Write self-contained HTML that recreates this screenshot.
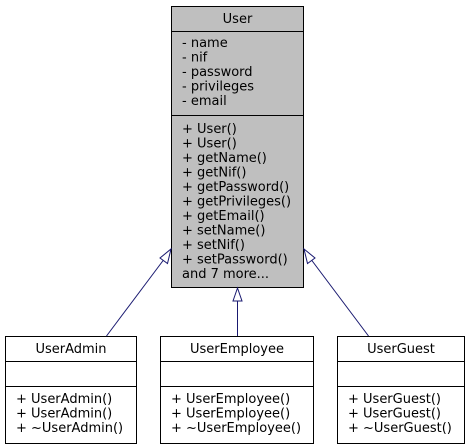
<!DOCTYPE html>
<html><head><style>body{margin:0;background:#fff}svg{display:block}</style></head><body>
<svg width="470" height="448" viewBox="0 0 470 448" xmlns="http://www.w3.org/2000/svg" font-family="DejaVu Sans, sans-serif" font-size="13">
<rect x="171.5" y="6.5" width="132" height="281" fill="#bfbfbf" stroke="#000"/>
<line x1="171.5" y1="31.5" x2="303.5" y2="31.5" stroke="#000"/>
<line x1="171.5" y1="115.5" x2="303.5" y2="115.5" stroke="#000"/>
<text x="237.5" y="23" text-anchor="middle">User</text>
<g>
<text x="182" y="47">- name</text>
<text x="182" y="61.5">- nif</text>
<text x="182" y="76">- password</text>
<text x="182" y="90.5">- privileges</text>
<text x="182" y="105">- email</text>
<text x="182" y="133">+ User()</text>
<text x="182" y="147.5">+ User()</text>
<text x="182" y="162">+ getName()</text>
<text x="182" y="176.5">+ getNif()</text>
<text x="182" y="191">+ getPassword()</text>
<text x="182" y="205.5">+ getPrivileges()</text>
<text x="182" y="220">+ getEmail()</text>
<text x="182" y="234.5">+ setName()</text>
<text x="182" y="249">+ setNif()</text>
<text x="182" y="263.5">+ setPassword()</text>
<text x="182" y="278">and 7 more...</text>
</g>
<g fill="#fff" stroke="#000">
<rect x="5.5" y="336.5" width="131" height="107"/>
<rect x="160.5" y="336.5" width="153" height="107"/>
<rect x="337.5" y="336.5" width="127" height="107"/>
</g>
<g stroke="#000">
<line x1="5.5" y1="361.5" x2="136.5" y2="361.5"/><line x1="5.5" y1="386.5" x2="136.5" y2="386.5"/>
<line x1="160.5" y1="361.5" x2="313.5" y2="361.5"/><line x1="160.5" y1="386.5" x2="313.5" y2="386.5"/>
<line x1="337.5" y1="361.5" x2="464.5" y2="361.5"/><line x1="337.5" y1="386.5" x2="464.5" y2="386.5"/>
</g>
<text x="71" y="353" text-anchor="middle">UserAdmin</text>
<text x="237" y="353" text-anchor="middle">UserEmployee</text>
<text x="401" y="353" text-anchor="middle">UserGuest</text>
<text x="16" y="403">+ UserAdmin()</text>
<text x="16" y="417.5">+ UserAdmin()</text>
<text x="16" y="432">+ ~UserAdmin()</text>
<text x="171" y="403">+ UserEmployee()</text>
<text x="171" y="417.5">+ UserEmployee()</text>
<text x="171" y="432">+ ~UserEmployee()</text>
<text x="348" y="403">+ UserGuest()</text>
<text x="348" y="417.5">+ UserGuest()</text>
<text x="348" y="432">+ ~UserGuest()</text>
<g stroke="#191970" fill="none">
<line x1="106.5" y1="336" x2="165" y2="258"/>
<polygon points="171,249 167.5,263.5 160,258" fill="#fff"/>
<line x1="237.5" y1="336" x2="237.5" y2="301"/>
<polygon points="237.5,288 242,301 233,301" fill="#fff"/>
<line x1="368.5" y1="336" x2="310" y2="258"/>
<polygon points="304,249 315,258 307.5,263.5" fill="#fff"/>
</g>
</svg>
</body></html>
